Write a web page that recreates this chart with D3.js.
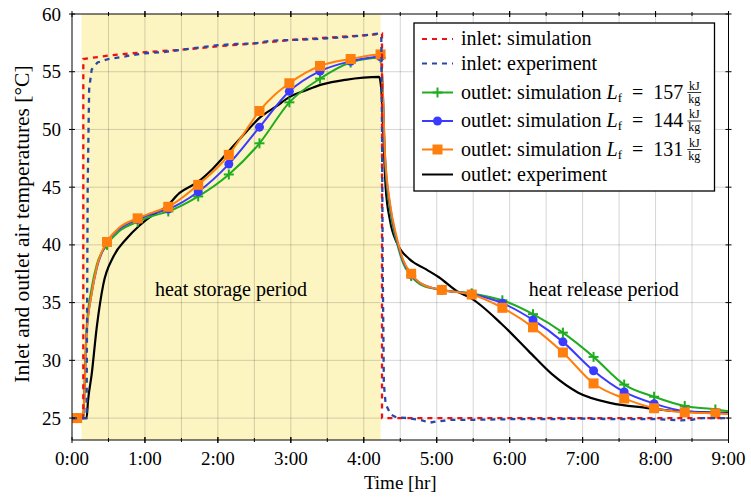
<!DOCTYPE html>
<html>
<head>
<meta charset="utf-8">
<script src="https://cdn.jsdelivr.net/npm/d3@7"></script>
<style>
body{margin:0;background:#fff;}
text{font-family:"Liberation Serif","DejaVu Serif",serif;fill:#000;}
</style>
</head>
<body>
<div id="plot"></div>
<script>
// inlet / outlet air temperatures, time in hours, temperature in degC

var xTicks = [0,1,2,3,4,5,6,7,8,9];
var xTickLabels = ['0:00','1:00','2:00','3:00','4:00','5:00','6:00','7:00','8:00','9:00'];
var yTicks = [25,30,35,40,45,50,55,60];

// charging period (shaded)
var storagePeriod = [0.13, 4.23];

// marker positions of the simulation curves
var markTimes = [0.07,0.48,0.9,1.32,1.73,2.15,2.57,2.98,3.4,3.82,4.23,4.65,5.07,5.48,5.9,6.32,6.73,7.15,7.57,7.98,8.4,8.82];

var inletSim = [[0,25],[0.155,25],[0.155,56.1],[0.5,56.4],[1,56.7],[1.5,56.9],[2,57.2],[2.5,57.45],[3,57.75],[3.5,57.95],[4,58.15],[4.25,58.3],[4.25,25],[9,25]];

var inletExp = [[0,25],[0.2,25],[0.215,45],[0.235,53.5],[0.27,55.2],[0.35,55.8],[0.5,56.1],[0.75,56.35],[1,56.6],[1.25,56.7],[1.5,56.9],[1.75,57.1],[2,57.3],[2.25,57.4],[2.5,57.45],[2.75,57.7],[3,57.75],[3.25,57.8],[3.5,57.9],[3.75,58],[4,58.15],[4.2,58.3],[4.24,58.1],[4.25,50],[4.26,38],[4.275,28],[4.3,26.2],[4.37,25.3],[4.45,25.05],[4.6,25],[4.8,24.8],[4.9,24.6],[5,24.7],[5.2,24.85],[5.5,24.85],[6,24.9],[6.5,24.9],[7,24.95],[7.5,24.9],[8,24.9],[8.35,24.8],[8.5,24.85],[8.6,25],[9,25]];

var outletSim157 = [[0,25],[0.07,25],[0.155,25.2],[0.175,28.5],[0.2,32.8],[0.27,36.3],[0.34,38.3],[0.48,40],[0.65,41.2],[0.9,42],[1.1,42.5],[1.32,42.9],[1.73,44.2],[2.15,46.1],[2.57,48.8],[2.98,52.35],[3.4,54.4],[3.82,55.8],[4.23,56.2],[4.26,53.5],[4.29,47.5],[4.36,43],[4.45,40.3],[4.54,38.4],[4.65,37.3],[4.8,36.5],[5.07,36.1],[5.48,35.8],[5.9,35.2],[6.32,34],[6.73,32.4],[7.15,30.3],[7.57,27.9],[7.98,26.85],[8.4,26.05],[8.82,25.75],[9,25.6]];

var outletSim144 = [[0,25],[0.07,25],[0.155,25.2],[0.175,28],[0.2,32.3],[0.27,35.8],[0.34,38],[0.48,40.2],[0.65,41.4],[0.9,42.2],[1.1,42.7],[1.32,43.1],[1.73,44.6],[2.15,47],[2.57,50.2],[2.98,53.3],[3.4,55.05],[3.82,55.9],[4.23,56.3],[4.26,53.5],[4.29,47.8],[4.36,43.4],[4.45,40.5],[4.54,38.6],[4.65,37.4],[4.8,36.6],[5.07,36.1],[5.48,35.75],[5.9,34.95],[6.32,33.5],[6.73,31.6],[7.15,29.1],[7.57,27.26],[7.98,26.25],[8.4,25.6],[8.82,25.45],[9,25.4]];

var outletSim131 = [[0,25],[0.07,25],[0.155,25.2],[0.175,28],[0.2,32.3],[0.27,35.8],[0.34,38.1],[0.48,40.25],[0.65,41.5],[0.9,42.3],[1.1,42.8],[1.32,43.3],[1.73,45.2],[2.15,47.8],[2.35,49.6],[2.57,51.6],[2.78,53],[2.98,54],[3.2,54.9],[3.4,55.5],[3.82,56.1],[4.23,56.5],[4.26,53.7],[4.29,48],[4.36,43.6],[4.45,40.7],[4.54,38.7],[4.65,37.5],[4.8,36.6],[5.07,36.1],[5.48,35.7],[5.9,34.55],[6.32,32.86],[6.73,30.68],[7.15,28],[7.57,26.7],[7.98,25.85],[8.4,25.5],[8.82,25.4],[9,25.35]];

var outletExp = [[0,25],[0.2,25],[0.22,26.5],[0.27,28.8],[0.34,32.9],[0.43,36.6],[0.565,38.95],[0.75,40.55],[0.93,41.7],[1.11,42.6],[1.29,43.3],[1.475,44.5],[1.735,45.5],[1.93,46.6],[2.16,48.2],[2.39,49.8],[2.57,51],[2.8,52],[2.98,52.8],[3.21,53.4],[3.43,53.9],[3.75,54.3],[4.21,54.55],[4.24,53.5],[4.26,50.85],[4.3,45],[4.36,42.1],[4.46,40.1],[4.62,38.8],[4.85,37.9],[5.03,37.2],[5.3,35.9],[5.44,35.5],[5.89,33.15],[6.26,30.8],[6.58,28.8],[6.94,27.2],[7.39,26.3],[7.85,25.9],[8.3,25.6],[9,25.45]];

var W = 751, H = 501;
var margin = {t:14,r:22.5,b:61,l:72};
var width = W-margin.l-margin.r,
	height = H-margin.t-margin.b;

var svg = d3.select('#plot')
	.append('svg')
	.attr('width',W)
	.attr('height',H);

var plot = svg.append('g')
	.attr('transform','translate('+margin.l+','+margin.t+')');

var x = d3.scaleLinear().domain([0,9]).range([0,width]);
var y = d3.scaleLinear().domain([23.1,60]).range([height,0]);

//shaded storage period
plot.append('rect')
	.attr('x',x(storagePeriod[0]))
	.attr('y',0)
	.attr('width',x(storagePeriod[1])-x(storagePeriod[0]))
	.attr('height',height)
	.style('fill','#fcf5c1');

//grid
var halfHours = d3.range(1,18).map(function(d){return d/2;});
plot.selectAll('.vgrid').data(halfHours).enter()
	.append('line')
	.attr('x1',function(d){return x(d);})
	.attr('x2',function(d){return x(d);})
	.attr('y1',0).attr('y2',height)
	.style('stroke','#000').style('stroke-opacity',0.17).style('stroke-width',1);
plot.selectAll('.hgrid').data(yTicks.slice(0,-1)).enter()
	.append('line')
	.attr('x1',0).attr('x2',width)
	.attr('y1',function(d){return y(d);})
	.attr('y2',function(d){return y(d);})
	.style('stroke','#000').style('stroke-opacity',0.17).style('stroke-width',1);

//annotations
plot.append('text').attr('x',x(2.18)).attr('y',y(35.6)).attr('text-anchor','middle')
	.style('font-size','20px').text('heat storage period');
plot.append('text').attr('x',x(7.29)).attr('y',y(35.6)).attr('text-anchor','middle')
	.style('font-size','20px').text('heat release period');

//lines
var lineLin = d3.line().x(function(d){return x(d[0]);}).y(function(d){return y(d[1]);});
var lineSmooth = d3.line().curve(d3.curveMonotoneX).x(function(d){return x(d[0]);}).y(function(d){return y(d[1]);});

var series = [
	{data:outletExp, color:'#000', marker:null, smooth:true, dash:null, w:2.2},
	{data:outletSim157, color:'#1fad1f', marker:'plus', smooth:true, dash:null, w:2},
	{data:outletSim144, color:'#3b3bff', marker:'circle', smooth:true, dash:null, w:2},
	{data:outletSim131, color:'#ff7f0e', marker:'square', smooth:true, dash:null, w:2},
	{data:inletSim, color:'#f01010', marker:null, smooth:false, dash:'5,5', w:2.3},
	{data:inletExp, color:'#2848a8', marker:null, smooth:false, dash:'5,5', w:2.3}
];

function drawMarker(g, type, cx, cy, color){
	if(type==='plus'){
		g.append('line').attr('x1',cx-5).attr('x2',cx+5).attr('y1',cy).attr('y2',cy)
			.style('stroke',color).style('stroke-width',2);
		g.append('line').attr('x1',cx).attr('x2',cx).attr('y1',cy-5).attr('y2',cy+5)
			.style('stroke',color).style('stroke-width',2);
	} else if(type==='circle'){
		g.append('circle').attr('cx',cx).attr('cy',cy).attr('r',4.5).style('fill',color);
	} else if(type==='square'){
		g.append('rect').attr('x',cx-5).attr('y',cy-5).attr('width',10).attr('height',10).style('fill',color);
	}
}

var isMark = {};
markTimes.forEach(function(t){ isMark[t] = true; });

series.forEach(function(s){
	plot.append('path')
		.attr('d',(s.smooth ? lineSmooth : lineLin)(s.data))
		.style('fill','none')
		.style('stroke',s.color)
		.style('stroke-width',s.w)
		.style('stroke-dasharray',s.dash);
	if(s.marker){
		var mg = plot.append('g');
		s.data.forEach(function(d){
			if(isMark[d[0]]) drawMarker(mg, s.marker, x(d[0]), y(d[1]), s.color);
		});
	}
});

//frame + ticks
plot.append('rect').attr('width',width).attr('height',height)
	.style('fill','none').style('stroke','#000').style('stroke-width',1);

halfHours.concat(xTicks).forEach(function(t){
	var len = (t%1===0) ? 3 : 2;
	[0,height].forEach(function(yy){
		plot.append('line').attr('x1',x(t)).attr('x2',x(t))
			.attr('y1',yy-len).attr('y2',yy+len)
			.style('stroke','#000').style('stroke-width',1);
	});
});
yTicks.forEach(function(v){
	[0,width].forEach(function(xx){
		plot.append('line').attr('x1',xx-3).attr('x2',xx+3)
			.attr('y1',y(v)).attr('y2',y(v))
			.style('stroke','#000').style('stroke-width',1);
	});
});

//tick labels
plot.selectAll('.xl').data(xTicks).enter()
	.append('text')
	.attr('x',function(d){return x(d);})
	.attr('y',height+25)
	.attr('text-anchor','middle')
	.style('font-size','19px')
	.text(function(d,i){return xTickLabels[i];});
plot.selectAll('.yl').data(yTicks).enter()
	.append('text')
	.attr('x',-11)
	.attr('y',function(d){return y(d)+6.5;})
	.attr('text-anchor','end')
	.style('font-size','19px')
	.text(function(d){return d;});

//axis titles
svg.append('text').attr('x',margin.l+width/2).attr('y',489).attr('text-anchor','middle')
	.style('font-size','19px').text('Time [hr]');
svg.append('text').attr('transform','translate(28.5,'+(margin.t+height/2-3)+') rotate(-90)')
	.attr('text-anchor','middle').style('font-size','21.5px')
	.text('Inlet and outlet air temperatures [°C]');

//legend
var legend = svg.append('g');
legend.append('rect').attr('x',414).attr('y',23).attr('width',300.5).attr('height',168)
	.style('fill','#fff').style('stroke','#000').style('stroke-width',1.3);

var legendItems = [
	{s:series[4], label:'inlet: simulation', y:39},
	{s:series[5], label:'inlet: experiment', y:63.5},
	{s:series[1], label:'outlet: simulation ', lf:'157', y:92.5},
	{s:series[2], label:'outlet: simulation ', lf:'144', y:121},
	{s:series[3], label:'outlet: simulation ', lf:'131', y:149.5},
	{s:series[0], label:'outlet: experiment', y:174.5}
];

legendItems.forEach(function(it){
	legend.append('line').attr('x1',422).attr('x2',453).attr('y1',it.y).attr('y2',it.y)
		.style('stroke',it.s.color).style('stroke-width',2).style('stroke-dasharray',it.s.dash);
	if(it.s.marker) drawMarker(legend, it.s.marker, 437.5, it.y, it.s.color);
	var t = legend.append('text').attr('x',461).attr('y',it.y+6).style('font-size','20px');
	t.append('tspan').text(it.label);
	if(it.lf){
		t.append('tspan').style('font-style','italic').text('L');
		t.append('tspan').attr('dy',3).style('font-size','13px').text('f');
		t.append('tspan').attr('dy',-3).text('\u2002=\u2002'+it.lf);
		var endX = 461 + t.node().getComputedTextLength() + 3;
		legend.append('text').attr('x',endX+8).attr('y',it.y-3).attr('text-anchor','middle')
			.style('font-size','12px').text('kJ');
		legend.append('line').attr('x1',endX+1).attr('x2',endX+15).attr('y1',it.y).attr('y2',it.y)
			.style('stroke','#000').style('stroke-width',0.8);
		legend.append('text').attr('x',endX+8).attr('y',it.y+10).attr('text-anchor','middle')
			.style('font-size','12px').text('kg');
	}
});
</script>
</body>
</html>
